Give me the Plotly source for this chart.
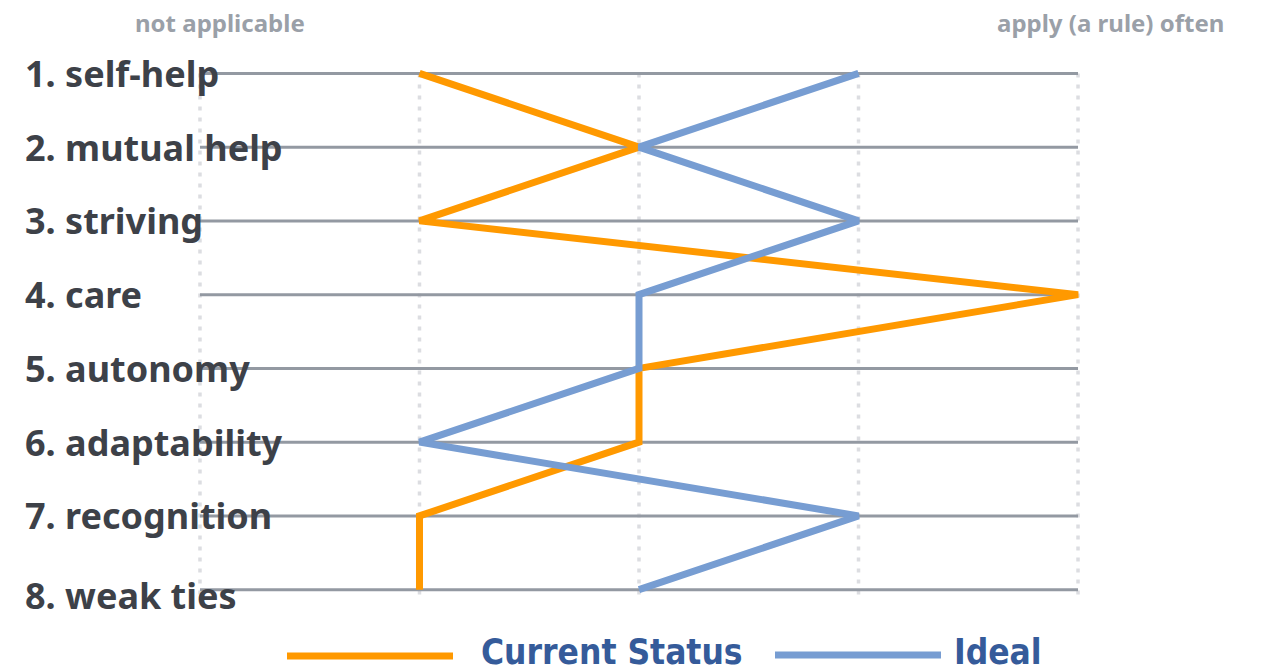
import plotly.graph_objects as go

categories = ["1. self-help", "2. mutual help", "3. striving", "4. care",
              "5. autonomy", "6. adaptability", "7. recognition", "8. weak ties"]
current_status = [1, 2, 1, 4, 2, 2, 1, 1]
ideal = [3, 2, 3, 2, 2, 1, 3, 2]
scale_labels = ["not applicable", "apply (a rule) often"]
series_names = ["Current Status", "Ideal"]

ORANGE = "#ff9900"
BLUE = "#779dd2"
W, H = 1264, 671
L, R, T, B = 189, 175, 66, 74
XR = [-0.05, 4.05]
YR = [8.1, 0.9]

def paper_x(p):
    return (p - L) / (W - L - R)

def paper_y(p):
    return (H - B - p) / (H - T - B)

def yval_to_py(v):
    return T + (v - YR[1]) / (YR[0] - YR[1]) * (H - T - B)

ys = list(range(1, len(categories) + 1))

fig = go.Figure()
fig.add_trace(go.Scatter(x=current_status, y=ys, mode="lines", name=series_names[0],
                         line=dict(color=ORANGE, width=7), showlegend=False))
fig.add_trace(go.Scatter(x=ideal, y=ys, mode="lines", name=series_names[1],
                         line=dict(color=BLUE, width=7), showlegend=False))

shapes = []
for xv in range(0, 5):
    shapes.append(dict(type="line", xref="x", yref="y", x0=xv, x1=xv, y0=1.0, y1=8.07,
                       line=dict(color="#dcdde1", width=3.5, dash="4px,7px"), layer="below"))
for yv in ys:
    shapes.append(dict(type="line", xref="x", yref="y", x0=0, x1=4, y0=yv, y1=yv,
                       line=dict(color="#9399a2", width=3), layer="below"))
# custom legend samples
shapes.append(dict(type="line", xref="paper", yref="paper", x0=paper_x(287), x1=paper_x(453),
                   y0=paper_y(656), y1=paper_y(656), line=dict(color=ORANGE, width=7)))
shapes.append(dict(type="line", xref="paper", yref="paper", x0=paper_x(775), x1=paper_x(941),
                   y0=paper_y(655), y1=paper_y(655), line=dict(color=BLUE, width=7)))

annotations = []
for i, c in enumerate(categories):
    py = yval_to_py(ys[i]) + (6 if i == len(categories) - 1 else 0)
    annotations.append(dict(x=paper_x(23), y=paper_y(py), xref="paper", yref="paper", text=c,
                            showarrow=False, xanchor="left", yanchor="middle",
                            font=dict(family="Noto Sans", size=36, color="#3d4148", weight="bold")))
annotations.append(dict(x=paper_x(220), y=paper_y(22), xref="paper", yref="paper", text=scale_labels[0],
                        showarrow=False, xanchor="center", yanchor="middle",
                        font=dict(family="Noto Sans", size=24, color="#9aa0a8", weight="bold")))
annotations.append(dict(x=paper_x(1110), y=paper_y(22), xref="paper", yref="paper", text=scale_labels[1],
                        showarrow=False, xanchor="center", yanchor="middle",
                        font=dict(family="Noto Sans", size=24, color="#9aa0a8", weight="bold")))
annotations.append(dict(x=paper_x(479), y=paper_y(652), xref="paper", yref="paper", text=series_names[0],
                        showarrow=False, xanchor="left", yanchor="middle",
                        font=dict(family="DejaVu Sans Condensed", size=35, color="#355b9a", weight="bold")))
annotations.append(dict(x=paper_x(952), y=paper_y(652), xref="paper", yref="paper", text=series_names[1],
                        showarrow=False, xanchor="left", yanchor="middle",
                        font=dict(family="DejaVu Sans Condensed", size=35, color="#355b9a", weight="bold")))

fig.update_layout(
    width=W, height=H,
    margin=dict(l=L, r=R, t=T, b=B, pad=0),
    paper_bgcolor="white", plot_bgcolor="white",
    xaxis=dict(range=XR, showgrid=False, zeroline=False, showticklabels=False, showline=False),
    yaxis=dict(range=YR, showgrid=False, zeroline=False, showticklabels=False, showline=False),
    shapes=shapes, annotations=annotations,
)
fig.write_html("out.html")
